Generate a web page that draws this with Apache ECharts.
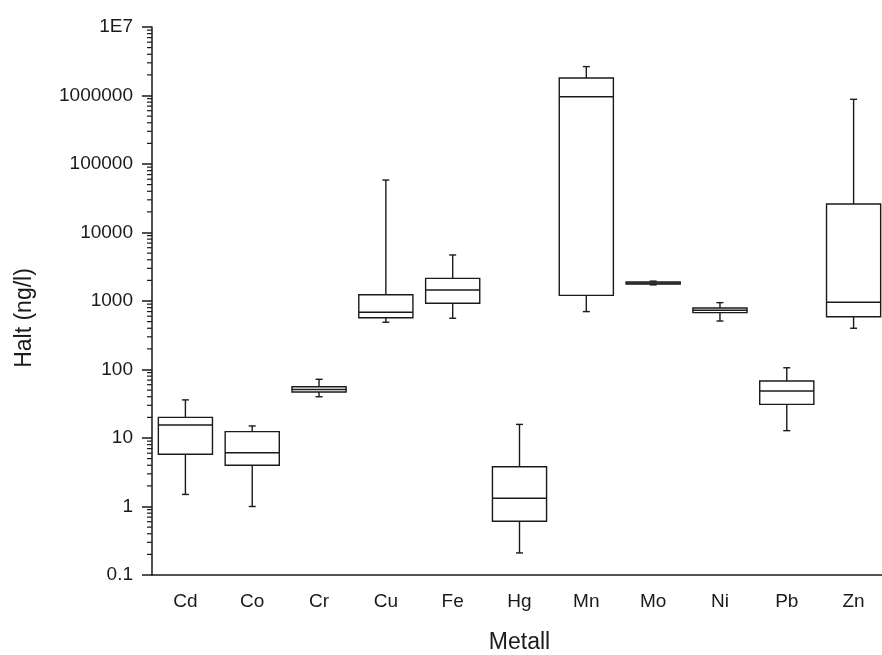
<!DOCTYPE html>
<html lang="en">
<head>
  <meta charset="UTF-8">
  <script src="https://cdn.jsdelivr.net/npm/echarts@6/dist/echarts.min.js"></script>
  <title>Metall</title>
</head>
<body style="margin:0;background:#fff">
  <div id="chart" style="width: 882px; height: 655px"></div>
  <script>
    // Boxplot stats per metal (ng/l)
    const metals = ['Cd', 'Co', 'Cr', 'Cu', 'Fe', 'Hg', 'Mn', 'Mo', 'Ni', 'Pb', 'Zn']
    const whiskerLow = [1.5, 1.0, 40, 490, 560, 0.21, 700, 1720, 510, 12.8, 400]
    const q1 = [5.8, 4.0, 47, 570, 925, 0.61, 1210, 1770, 676, 31, 590]
    const median = [15.5, 6.1, 51, 684, 1450, 1.32, 960000, 1830, 731, 48.5, 960]
    const q3 = [20, 12.4, 56, 1236, 2140, 3.8, 1800000, 1900, 790, 68, 26000]
    const whiskerHigh = [36, 15, 72, 58300, 4700, 15.8, 2640000, 1950, 946, 106, 880000]

    // minor ticks of the log axis: 2..9 x 10^k
    const minorTicks = []
    for (let e = -1; e < 7; e++) {
      for (let k = 2; k <= 9; k++) {
        minorTicks.push([0, k * Math.pow(10, e)])
      }
    }

    const boxData = metals.map((m, i) => [i, whiskerLow[i], q1[i], median[i], q3[i], whiskerHigh[i]])

    const font = 'Liberation Sans, Arial, sans-serif'
    const ink = '#1a1a1a'
    const chart = echarts.init(document.getElementById('chart'))

    chart.setOption({
      backgroundColor: '#fff',
      animation: false,
      grid: { left: 152, top: 27, width: 735, height: 548, containLabel: false, outerBoundsMode: 'none' },
      xAxis: {
        type: 'category',
        data: metals,
        boundaryGap: true,
        name: 'Metall',
        nameLocation: 'middle',
        nameGap: 56,
        nameTextStyle: { fontFamily: font, fontSize: 23, color: ink },
        axisLine: { lineStyle: { color: ink, width: 1.5 } },
        axisTick: { alignWithLabel: true, length: 10, lineStyle: { color: ink, width: 1.5 } },
        axisLabel: { fontFamily: font, fontSize: 19, color: ink, margin: 17 },
        splitLine: { show: false }
      },
      yAxis: {
        type: 'log',
        logBase: 10,
        min: 0.1,
        max: 1e7,
        splitNumber: 8,
        name: 'Halt (ng/l)',
        nameLocation: 'middle',
        nameGap: 116,
        nameTextStyle: { fontFamily: font, fontSize: 23, color: ink, padding: [0, 34, 0, 0] },
        axisLine: { show: true, lineStyle: { color: ink, width: 1.5 } },
        axisTick: { show: true, length: 10, lineStyle: { color: ink, width: 1.5 } },
        axisLabel: {
          fontFamily: font, fontSize: 19, color: ink, margin: 19,
          formatter: function (v) {
            const e = Math.round(Math.log10(v))
            if (e >= 7) return '1E' + e
            if (e < 0) return '0.1'
            return String(Math.pow(10, e))
          }
        },
        splitLine: { show: false }
      },
      series: [
        {
          type: 'custom',
          data: boxData,
          encode: { x: 0, y: [1, 2, 3, 4, 5] },
          renderItem: function (params, api) {
            const i = api.value(0)
            const band = params.coordSys.width / metals.length
            const bw = band * 0.81
            const cap = 7
            const lo = api.coord([i, api.value(1)])
            const b1 = api.coord([i, api.value(2)])
            const md = api.coord([i, api.value(3)])
            const b3 = api.coord([i, api.value(4)])
            const hi = api.coord([i, api.value(5)])
            const cx = lo[0]
            const style = { stroke: ink, lineWidth: 1.4, fill: null }
            return {
              type: 'group',
              children: [
                { type: 'line', shape: { x1: cx, y1: hi[1], x2: cx, y2: b3[1] }, style: style },
                { type: 'line', shape: { x1: cx, y1: b1[1], x2: cx, y2: lo[1] }, style: style },
                { type: 'line', shape: { x1: cx - cap / 2, y1: hi[1], x2: cx + cap / 2, y2: hi[1] }, style: style },
                { type: 'line', shape: { x1: cx - cap / 2, y1: lo[1], x2: cx + cap / 2, y2: lo[1] }, style: style },
                { type: 'rect', shape: { x: cx - bw / 2, y: b3[1], width: bw, height: b1[1] - b3[1] }, style: style },
                { type: 'line', shape: { x1: cx - bw / 2, y1: md[1], x2: cx + bw / 2, y2: md[1] }, style: style }
              ]
            }
          }
        },
        {
          type: 'custom',
          data: minorTicks,
          encode: { x: 0, y: 1 },
          silent: true,
          renderItem: function (params, api) {
            const p = api.coord([0, api.value(1)])
            const x0 = params.coordSys.x
            return {
              type: 'line',
              shape: { x1: x0 - 5, y1: p[1], x2: x0, y2: p[1] },
              style: { stroke: ink, lineWidth: 1.2 }
            }
          }
        }
      ]
    })
  </script>
</body>
</html>
